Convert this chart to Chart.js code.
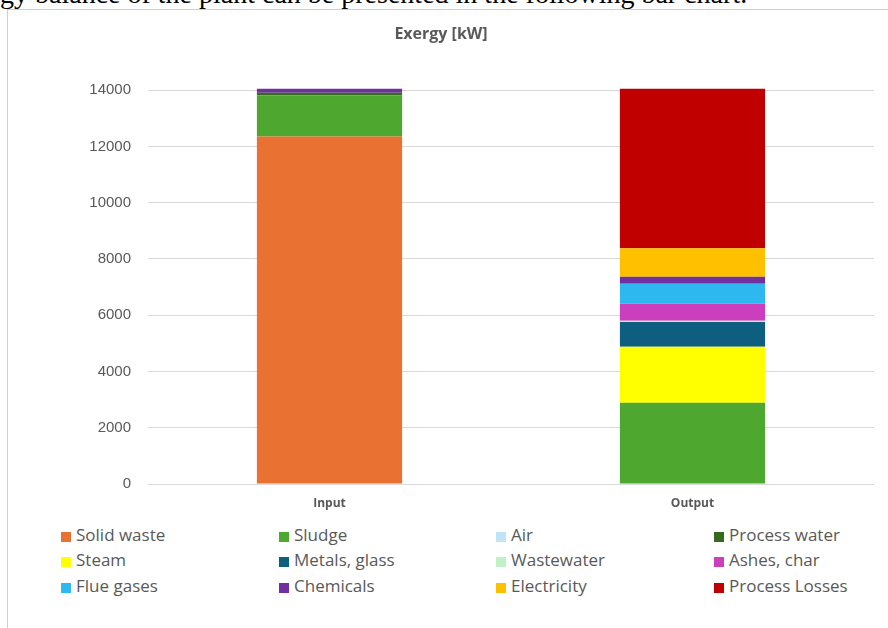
<!DOCTYPE html>
<html>
<head>
<meta charset="utf-8">
<script src="https://cdn.jsdelivr.net/npm/chart.js@4.4.1/dist/chart.umd.min.js"></script>
<style>
  html, body { margin: 0; padding: 0; background: #fff; }
  body { width: 888px; height: 628px; position: relative; overflow: hidden; }
  #doc-line {
    position: absolute; left: 0; top: -20px; white-space: nowrap;
    font-family: "Liberation Serif", "Times New Roman", serif;
    font-size: 28px; line-height: 28px; color: #000;
  }
  #frame {
    position: absolute; left: 7px; top: 9px; width: 895px; height: 619px;
    border-left: 1px solid #d0d0d0; border-top: 1px solid #d0d0d0;
    box-sizing: border-box; background: #fff;
  }
  #chart { position: absolute; left: 0; top: 0; }
  #legend { position: absolute; left: 0; top: 0; }
  .item {
    position: absolute; height: 20px; line-height: 20px; white-space: nowrap;
    font-family: "Open Sans", sans-serif; font-size: 17px; color: #595959;
  }
  .item i {
    display: inline-block; width: 10px; height: 10px; margin-right: 5px;
    vertical-align: -1px;
  }
</style>
</head>
<body>
<div id="doc-line">gy balance of the plant can be presented in the following bar chart.</div>
<div id="frame">
  <canvas id="chart" width="894" height="500"></canvas>
  <div id="legend"></div>
</div>
<script>
// === Data (kW) ===
const categories = ['Input', 'Output'];
const streams = ['Solid waste', 'Sludge', 'Air', 'Process water', 'Steam', 'Metals, glass',
                 'Wastewater', 'Ashes, char', 'Flue gases', 'Chemicals', 'Electricity', 'Process Losses'];
const inputValues  = [12350, 1440, 10, 110, 0, 0, 0, 0, 0, 140, 0, 0];
const outputValues = [0, 2890, 0, 0, 1985, 885, 45, 600, 710, 255, 1010, 5670];
const yTicks = [0, 2000, 4000, 6000, 8000, 10000, 12000, 14000];

const colors = ['#E97132', '#4EA72E', '#C0E4F5', '#356A1F', '#FFFF00', '#0E5F7F',
                '#C1F0C8', '#CB3FBE', '#2DB8F0', '#7030A0', '#FFC000', '#C00000'];

const textGray = '#595959';

const datasets = streams.map((name, i) => ({
  label: name,
  data: [inputValues[i], outputValues[i]],
  backgroundColor: colors[i],
  borderWidth: 0,
  categoryPercentage: 1,
  barPercentage: 0.4,
  clip: false
}));

const chart = new Chart(document.getElementById('chart'), {
  type: 'bar',
  data: { labels: categories, datasets },
  options: {
    responsive: false,
    animation: false,
    events: [],
    layout: { padding: { left: 0, right: 28, top: 0, bottom: 0 } },
    plugins: {
      legend: { display: false },
      tooltip: { enabled: false },
      title: {
        display: true,
        text: 'Exergy [kW]',
        color: textGray,
        font: { family: 'Open Sans', size: 16, weight: 'bold', lineHeight: 1.2 },
        padding: { top: 15, bottom: 46 }
      }
    },
    scales: {
      x: {
        stacked: true,
        grid: { display: false, drawTicks: false },
        border: { display: false },
        ticks: {
          color: textGray,
          padding: 12,
          font: { family: 'Open Sans', size: 12, weight: 'bold' }
        },
        afterFit: s => { s.height = 26; }
      },
      y: {
        stacked: true,
        min: 0,
        max: 14000,
        afterBuildTicks: s => { s.ticks = yTicks.map(v => ({ value: v })); },
        grid: { color: '#d9d9d9', lineWidth: 1, drawTicks: false },
        border: { display: false },
        ticks: {
          color: textGray,
          padding: 17,
          font: { family: 'Liberation Sans', size: 15 },
          callback: v => String(v)
        },
        afterFit: s => { s.width = 140; }
      }
    }
  }
});

// === Legend (4 columns x 3 rows) ===
const legendEl = document.getElementById('legend');
const colX = [53, 271, 488, 706];
const rowY = [515, 540, 566];
chart.data.datasets.forEach((ds, i) => {
  const item = document.createElement('div');
  item.className = 'item';
  item.style.left = colX[i % 4] + 'px';
  item.style.top = rowY[Math.floor(i / 4)] + 'px';
  const swatch = document.createElement('i');
  swatch.style.background = ds.backgroundColor;
  item.appendChild(swatch);
  item.appendChild(document.createTextNode(ds.label));
  legendEl.appendChild(item);
});
</script>
</body>
</html>
